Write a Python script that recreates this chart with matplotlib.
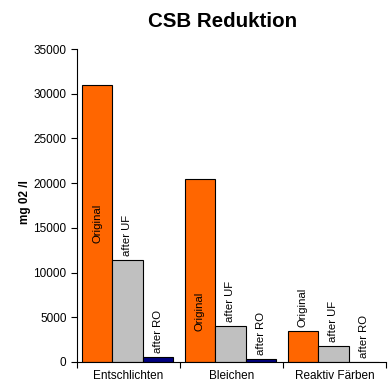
import matplotlib.pyplot as plt
import numpy as np

plt.rcParams['font.family'] = ['Liberation Sans', 'DejaVu Sans']

# data
categories = ['Entschlichten', 'Bleichen', 'Reaktiv Färben']
series_names = ['Original', 'after UF', 'after RO']
original = [31000, 20500, 3450]
after_uf = [11400, 4000, 1750]
after_ro = [550, 350, 0]
colors = ['#FF6600', '#C0C0C0', '#000080']

# label placement inside tall bars (data y of label centre), None = above bar
label_inside = [[15500, None, None], [5700, None, None], [None, None, None]]

fig = plt.figure(figsize=(3.91, 3.83), dpi=100)
ax = fig.add_axes([0.197, 0.055, 0.79, 0.817])

x = np.arange(len(categories))
width = 0.296
offsets = [-width, 0, width]
all_vals = [original, after_uf, after_ro]

for i, vals in enumerate(all_vals):
    ax.bar(x + offsets[i] - 0.01, vals, width, color=colors[i],
           edgecolor='black', linewidth=0.8, zorder=2)
    for j, v in enumerate(vals):
        inside = label_inside[j][i]
        if inside is not None:
            ax.text(x[j] + offsets[i] - 0.01, inside, series_names[i],
                    rotation=90, ha='center', va='center', fontsize=8.2)
        else:
            ax.annotate(series_names[i], xy=(x[j] + offsets[i] - 0.01, v),
                        xytext=(0, 3), textcoords='offset points',
                        rotation=90, ha='center', va='bottom', fontsize=8.2)

ax.set_xlim(-0.5, 2.5)
ax.set_ylim(0, 35000)
ax.set_yticks(np.arange(0, 35001, 5000))
ax.tick_params(axis='y', labelsize=8.5, length=4, width=0.8, direction='out')

ax.set_xticks([-0.5, 0.5, 1.5, 2.5])
ax.set_xticklabels([])
ax.tick_params(axis='x', which='major', length=4, width=0.8, direction='out')
ax.set_xticks(x, minor=True)
ax.set_xticklabels(categories, minor=True)
ax.tick_params(axis='x', which='minor', length=0, pad=5.5, labelsize=8.5)

ax.spines['top'].set_visible(False)
ax.spines['right'].set_visible(False)
ax.spines['left'].set_linewidth(0.8)
ax.spines['bottom'].set_linewidth(0.8)

ax.set_ylabel('mg 02 /l', fontsize=8.5, fontweight='bold')
ax.yaxis.set_label_coords(-0.148, 0.51)
fig.text(0.568, 0.945, 'CSB Reduktion', ha='center', va='center',
         fontsize=14.8, fontweight='bold')

fig.savefig('out.png', dpi=100)
